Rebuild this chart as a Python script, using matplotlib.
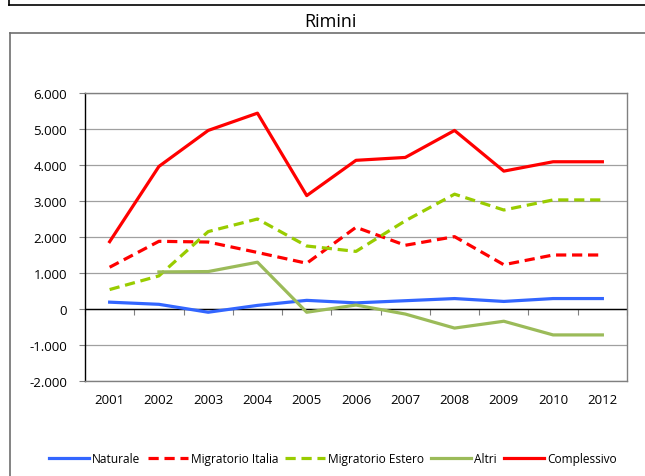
import numpy as np
import matplotlib
matplotlib.use('Agg')
import matplotlib.pyplot as plt
from matplotlib.lines import Line2D
from matplotlib.ticker import FuncFormatter

# dati (Rimini)
anni = ['2001', '2002', '2003', '2004', '2005', '2006', '2007', '2008', '2009', '2010', '2012']
naturale = [190, 130, -90, 100, 240, 170, 230, 290, 210, 290, 290]
migr_italia = [1160, 1880, 1860, 1570, 1270, 2270, 1770, 2010, 1230, 1500, 1500]
migr_estero = [540, 920, 2150, 2500, 1750, 1600, 2450, 3190, 2750, 3030, 3030]
altri = [np.nan, 1030, 1040, 1300, -90, 110, -140, -530, -340, -720, -720]
complessivo = [1870, 3960, 4960, 5440, 3150, 4130, 4210, 4960, 3830, 4090, 4090]

plt.rcParams['font.family'] = ['Open Sans', 'DejaVu Sans']

W, H = 645, 477
fig = plt.figure(figsize=(W / 100, H / 100), dpi=100)

def px(x, y):
    return x / W, 1 - y / H

# cornici del foglio
x0, y0 = px(9, 6)
fig.add_artist(Line2D([x0, 1], [y0, y0], color='black', lw=1.2))
fig.add_artist(Line2D([x0, x0], [1, y0], color='black', lw=1.2))
x1, y1 = px(10, 34)
fig.add_artist(Line2D([x1, 1], [y1, y1], color='#6e6e6e', lw=1.2))
fig.add_artist(Line2D([x1, x1], [0, y1], color='#6e6e6e', lw=1.2))

fig.text(330 / W, 1 - 22 / H, 'Rimini', ha='center', va='center', fontsize=13)

left, top = px(85, 94)
right, bottom = px(627, 382)
ax = fig.add_axes([left, bottom, right - left, top - bottom])

x = np.arange(len(anni))
lw = 2.3
ax.plot(x, naturale, color='#3366ff', lw=lw, label='Naturale')
ax.plot(x, migr_italia, color='#ff0000', lw=lw, dashes=(3.2, 1.8), label='Migratorio Italia')
ax.plot(x, migr_estero, color='#99cc00', lw=lw, dashes=(3.2, 1.8), label='Migratorio Estero')
ax.plot(x, altri, color='#9bbb59', lw=lw, label='Altri')
ax.plot(x, complessivo, color='#ff0000', lw=lw, label='Complessivo')

ax.set_xlim(-0.5, len(anni) - 0.5)
ax.set_ylim(-2000, 6000)
ax.set_yticks(range(-2000, 6001, 1000))
ax.yaxis.set_major_formatter(FuncFormatter(lambda v, p: f'{int(v):,}'.replace(',', '.')))
ax.yaxis.grid(True, color='#a0a0a0', lw=0.9)
ax.set_axisbelow(True)
ax.axhline(0, color='black', lw=1.0, zorder=1.5)

ax.set_xticks(x)
ax.set_xticklabels(anni)
ax.tick_params(axis='x', length=0, pad=9, labelsize=9.5)
ax.tick_params(axis='y', length=4, width=0.8, pad=9, labelsize=9.5, color='#808080')

for s in ['top', 'right', 'bottom']:
    ax.spines[s].set_color('#808080')
    ax.spines[s].set_linewidth(1.0)
ax.spines['left'].set_color('black')
ax.spines['left'].set_linewidth(1.0)

# tacche dell'asse categorie sullo zero
sec = ax.secondary_xaxis(0.25)
sec.set_xticks(np.arange(-0.5, len(anni), 1.0))
sec.set_xticklabels([])
sec.tick_params(length=4, width=0.8, color='#808080')
sec.spines['bottom'].set_visible(False)

leg = fig.legend(loc='center', bbox_to_anchor=(333 / W, 1 - 460 / H), ncol=5,
                 frameon=False, fontsize=8.6, handlelength=3.35, handletextpad=0.25,
                 columnspacing=0.6)

fig.savefig('out.png', dpi=100)
